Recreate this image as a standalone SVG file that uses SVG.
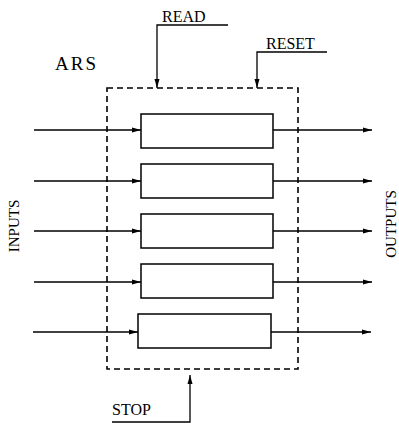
<svg xmlns="http://www.w3.org/2000/svg" width="399" height="423" viewBox="0 0 399 423">
<defs>
<marker id="ah" markerWidth="9" markerHeight="6" refX="9" refY="3" orient="auto" markerUnits="userSpaceOnUse">
<path d="M0,0.5 L9,3 L0,5.5 Z" fill="#000"/>
</marker>
</defs>
<style>
.t{font-family:"Liberation Serif","Times New Roman",serif;fill:#000}
.reg{fill:#fff;stroke:#000;stroke-width:1.5}
.ln{fill:none;stroke:#000;stroke-width:1.3}
.dash{fill:none;stroke:#000;stroke-width:1.6;stroke-dasharray:6 4}
</style>
<rect width="399" height="423" fill="#fff"/>
<g id="ars-box">
<rect class="dash" x="107" y="88" width="191" height="281"/>
<text class="t" x="55" y="70" font-size="19" letter-spacing="2">ARS</text>
</g>
<g id="connectors">
<path class="ln" d="M34,130 H141" marker-end="url(#ah)"/>
<path class="ln" d="M34,181 H141" marker-end="url(#ah)"/>
<path class="ln" d="M34,231 H141" marker-end="url(#ah)"/>
<path class="ln" d="M34,282 H141" marker-end="url(#ah)"/>
<path class="ln" d="M33,332 H138" marker-end="url(#ah)"/>
<path class="ln" d="M273,130 H372" marker-end="url(#ah)"/>
<path class="ln" d="M273,181 H372" marker-end="url(#ah)"/>
<path class="ln" d="M273,231 H372" marker-end="url(#ah)"/>
<path class="ln" d="M273,282 H372" marker-end="url(#ah)"/>
<path class="ln" d="M271,332 H371" marker-end="url(#ah)"/>
<path class="ln" d="M228,25 H157 V88" marker-end="url(#ah)"/>
<path class="ln" d="M327,52 H257 V88" marker-end="url(#ah)"/>
<path class="ln" d="M112,422 H190 V375" marker-end="url(#ah)"/>
</g>
<g id="reg1"><rect class="reg" x="141" y="114" width="132" height="34"/></g>
<g id="reg2"><rect class="reg" x="141" y="164" width="132" height="34"/></g>
<g id="reg3"><rect class="reg" x="141" y="214" width="132" height="34"/></g>
<g id="reg4"><rect class="reg" x="141" y="264" width="132" height="34"/></g>
<g id="reg5"><rect class="reg" x="138" y="314" width="133" height="34"/></g>
<g id="read"><text class="t" x="162" y="22" font-size="16">READ</text></g>
<g id="reset"><text class="t" x="266" y="49" font-size="16">RESET</text></g>
<g id="stop"><text class="t" x="112" y="415" font-size="16">STOP</text></g>
<g id="inputs"><text class="t" font-size="15" text-anchor="middle" transform="translate(19,226) rotate(-90)">INPUTS</text></g>
<g id="outputs"><text class="t" font-size="15" text-anchor="middle" transform="translate(396,224) rotate(-90)">OUTPUTS</text></g>
</svg>
